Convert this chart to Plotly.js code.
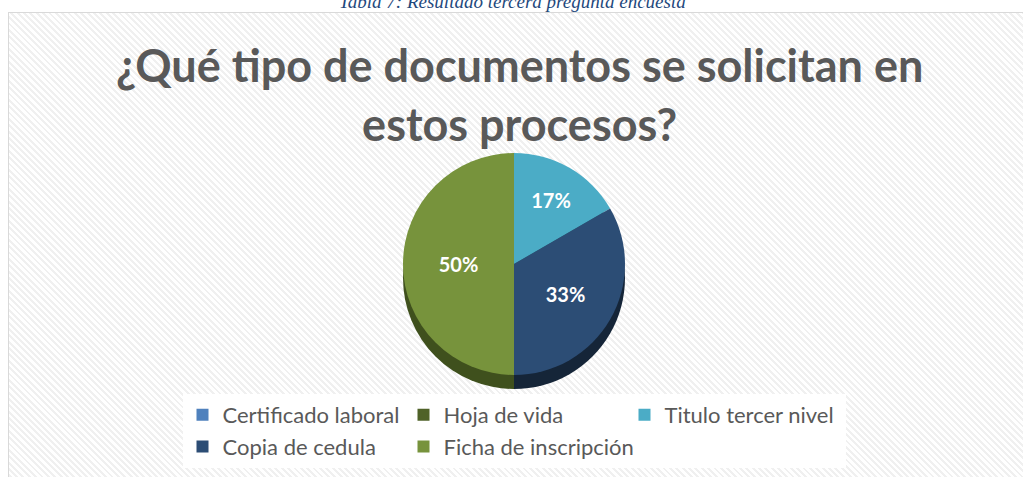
<!DOCTYPE html>
<html>
<head>
<meta charset="utf-8">
<script src="https://cdn.plot.ly/plotly-3.0.1.min.js"></script>
<style>
  html, body { margin: 0; padding: 0; background: #ffffff; }
  #wrap { position: relative; width: 1023px; height: 477px; overflow: hidden; }
  #frame {
    position: absolute; left: 8px; top: 12px; width: 1030px; height: 480px;
    border: 1px solid #d9d9d9;
    background-color: #ffffff;
    background-image: repeating-linear-gradient(45deg, #ffffff 0px, #ffffff 2.5px, #f0f0f0 2.5px, #f0f0f0 4.5px);
  }
  #chart { position: absolute; left: 0; top: 0; width: 1023px; height: 477px; }
</style>
</head>
<body>
<div id="wrap">
  <div id="frame"></div>
  <div id="chart"></div>
</div>
<script>
const caption = 'Tabla 7: Resultado tercera pregunta encuesta';
const chartTitle = '¿Qué tipo de documentos se solicitan en<br>estos procesos?';
const labels = ['Certificado laboral', 'Hoja de vida', 'Titulo tercer nivel', 'Copia de cedula', 'Ficha de inscripción'];
const values = [0, 0, 1, 2, 3];
const colors = ['#4F81BD', '#4F6228', '#4BACC6', '#2C4D75', '#77933C'];
const sideColors = ['#2f4d71', '#2f3b18', '#2d6776', '#152538', '#3f501d'];

const H = 477, W = 1023;
const ML = 160, MR = 160;
const PW = W - ML - MR;
const pieTop = 153, diam = 222, depth = 14, cx = 514;
function px2x(p) { return (p - ML) / PW; }
function dom(t, b) { return [(H - b) / H, (H - t) / H]; }

const depthPie = {
  type: 'pie', labels: labels, values: values, sort: false,
  direction: 'clockwise', rotation: 0,
  marker: { colors: sideColors, line: { width: 0 } },
  textinfo: 'none', hoverinfo: 'skip', showlegend: false,
  domain: { x: [px2x(cx - 150), px2x(cx + 150)], y: dom(pieTop + depth, pieTop + depth + diam) }
};
const mainPie = {
  type: 'pie', labels: labels, values: values, sort: false,
  direction: 'clockwise', rotation: 0,
  marker: { colors: colors, line: { width: 0 } },
  texttemplate: '%{percent:.0%}', textposition: 'inside', insidetextorientation: 'horizontal',
  textfont: { family: 'Lato, sans-serif', size: 20, color: '#ffffff', weight: 'bold' },
  domain: { x: [px2x(cx - 150), px2x(cx + 150)], y: dom(pieTop, pieTop + diam) }
};

const layout = {
  width: W, height: H,
  margin: { l: ML, r: MR, t: 0, b: 0 },
  paper_bgcolor: 'rgba(0,0,0,0)',
  plot_bgcolor: 'rgba(0,0,0,0)',
  title: {
    text: chartTitle, x: 0.508, xanchor: 'center', y: 1 - 82 / H, yanchor: 'middle',
    font: { family: 'Lato, sans-serif', size: 45, color: '#595959', weight: 'bold' }
  },
  legend: {
    orientation: 'h', x: px2x(514), xanchor: 'center', y: 1 - 431 / H, yanchor: 'middle',
    bgcolor: '#ffffff', entrywidth: 176, entrywidthmode: 'pixels',
    font: { family: 'Lato, sans-serif', size: 22, color: '#595959' },
    traceorder: 'normal'
  },
  annotations: [{
    text: caption, xref: 'paper', yref: 'paper', x: px2x(512), y: 1 - 1 / H, xanchor: 'center', yanchor: 'middle',
    showarrow: false,
    font: { family: '"Liberation Serif", "Times New Roman", serif', size: 19, color: '#1F497D', style: 'italic' }
  }]
};

Plotly.newPlot('chart', [depthPie, mainPie], layout, { displayModeBar: false, staticPlot: true });
</script>
</body>
</html>
